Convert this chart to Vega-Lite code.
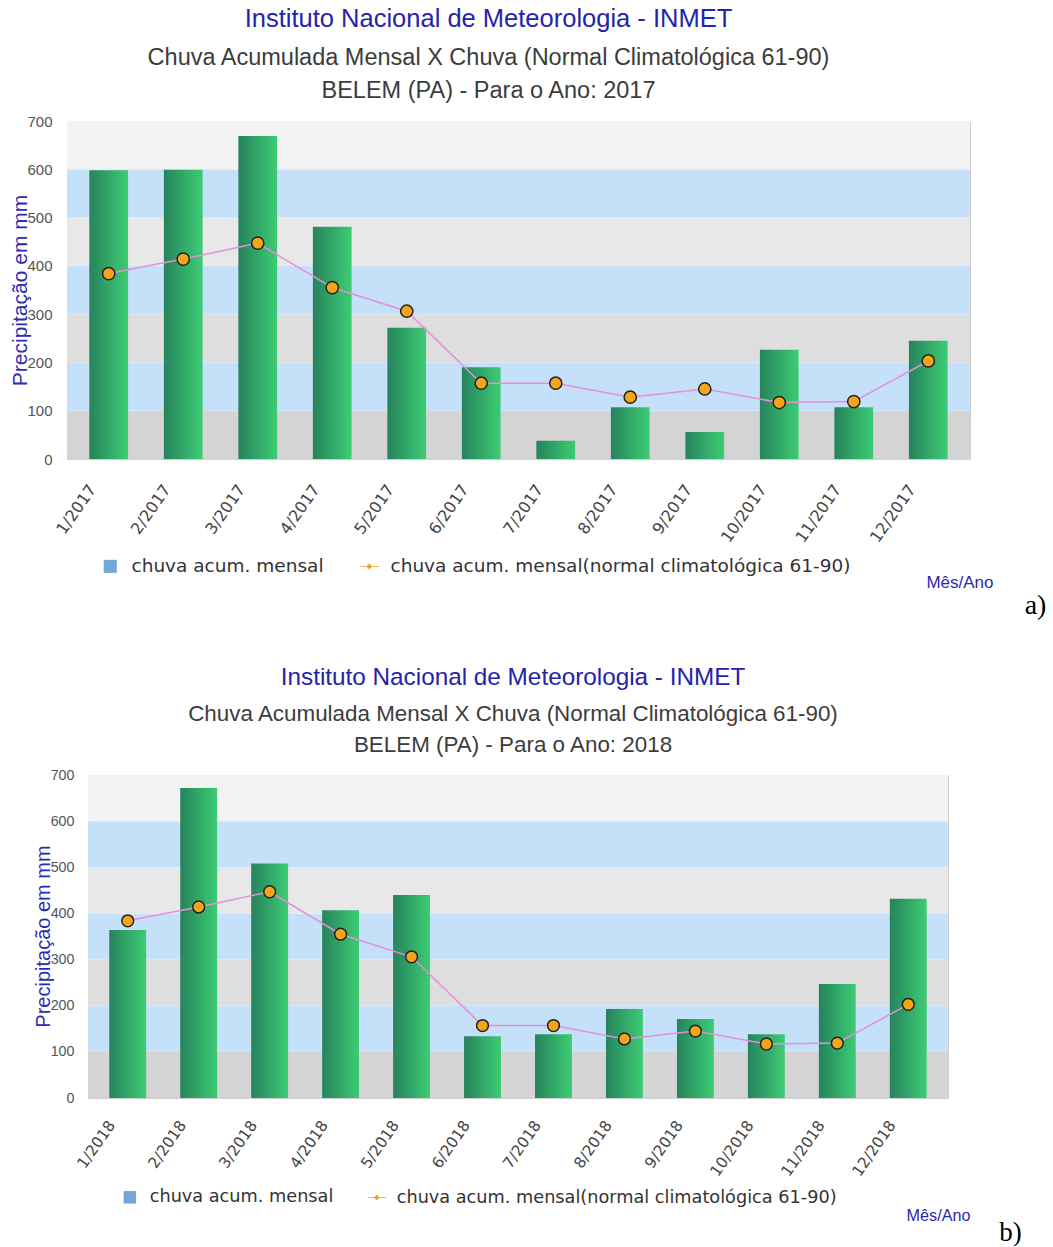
{
  "$schema": "https://vega.github.io/schema/vega-lite/v6.json",
  "padding": {"left": 8, "top": 6, "right": 0, "bottom": 0},
  "background": "white",
  "spacing": 45,
  "config": {"view": {"stroke": "#cfcfcf"}, "font": "Liberation Sans"},
  "resolve": {"scale": {"color": "independent", "fill": "independent", "shape": "independent", "x": "independent", "y": "independent"}, "legend": {"color": "independent", "fill": "independent", "shape": "independent"}},
  "datasets": {
    "bandas": [
      {"lo": 0, "hi": 100, "faixa": "f0"},
      {"lo": 100, "hi": 200, "faixa": "f1"},
      {"lo": 200, "hi": 300, "faixa": "f2"},
      {"lo": 300, "hi": 400, "faixa": "f3"},
      {"lo": 400, "hi": 500, "faixa": "f4"},
      {"lo": 500, "hi": 600, "faixa": "f5"},
      {"lo": 600, "hi": 700, "faixa": "f6"}
    ],
    "ano2017": [
      {"mes": "1/2017", "chuva": 598, "normal": 384},
      {"mes": "2/2017", "chuva": 599, "normal": 414},
      {"mes": "3/2017", "chuva": 669, "normal": 447},
      {"mes": "4/2017", "chuva": 481, "normal": 355},
      {"mes": "5/2017", "chuva": 272, "normal": 306},
      {"mes": "6/2017", "chuva": 190, "normal": 157},
      {"mes": "7/2017", "chuva": 38, "normal": 157},
      {"mes": "8/2017", "chuva": 107, "normal": 128},
      {"mes": "9/2017", "chuva": 56, "normal": 145},
      {"mes": "10/2017", "chuva": 226, "normal": 117},
      {"mes": "11/2017", "chuva": 107, "normal": 119},
      {"mes": "12/2017", "chuva": 245, "normal": 203}
    ],
    "ano2018": [
      {"mes": "1/2018", "chuva": 364, "normal": 384},
      {"mes": "2/2018", "chuva": 672, "normal": 414},
      {"mes": "3/2018", "chuva": 508, "normal": 447},
      {"mes": "4/2018", "chuva": 407, "normal": 355},
      {"mes": "5/2018", "chuva": 440, "normal": 306},
      {"mes": "6/2018", "chuva": 134, "normal": 157},
      {"mes": "7/2018", "chuva": 138, "normal": 157},
      {"mes": "8/2018", "chuva": 193, "normal": 128},
      {"mes": "9/2018", "chuva": 171, "normal": 145},
      {"mes": "10/2018", "chuva": 138, "normal": 117},
      {"mes": "11/2018", "chuva": 247, "normal": 119},
      {"mes": "12/2018", "chuva": 432, "normal": 203}
    ]
  },
  "vconcat": [
    {
      "width": 903,
      "height": 338,
      "title": {
        "text": "Instituto Nacional de Meteorologia - INMET",
        "subtitle": ["Chuva Acumulada Mensal X Chuva (Normal Climatológica 61-90)", "BELEM (PA) - Para o Ano: 2017"],
        "font": "Liberation Sans", "fontSize": 25.5, "fontWeight": "normal", "color": "#2424aa",
        "subtitleFont": "Liberation Sans", "subtitleFontSize": 23.5, "subtitleColor": "#3c3c3c",
        "subtitleLineHeight": 33, "subtitlePadding": 13, "offset": 12,
        "anchor": "middle", "frame": "group", "dx": -30
      },
      "layer": [
        {
          "data": {"name": "bandas"},
          "mark": {"type": "rect"},
          "encoding": {
            "y": {"field": "lo", "type": "quantitative", "scale": {"domain": [0, 700], "nice": false}, "axis": null},
            "y2": {"field": "hi"},
            "fill": {"field": "faixa", "type": "nominal", "legend": null,
              "scale": {"domain": ["f0", "f1", "f2", "f3", "f4", "f5", "f6"],
                        "range": ["#d4d4d4", "#c5e1fa", "#dedede", "#c5e1fa", "#e8e8e8", "#c5e1fa", "#f3f3f3"]}}
          }
        },
        {
          "data": {"name": "ano2017"},
          "mark": {"type": "bar", "color": {"gradient": "linear", "x1": 0, "x2": 1, "y1": 0, "y2": 0,
            "stops": [{"offset": 0, "color": "#26835c"}, {"offset": 1, "color": "#3dcc74"}]}},
          "encoding": {
            "x": {"field": "mes", "type": "nominal", "sort": null, "title": "Mês/Ano",
              "scale": {"paddingInner": 0.48, "paddingOuter": 0.3},
              "axis": {"labelAngle": -55, "labelAlign": "right", "labelBaseline": "middle",
                "labelFont": "DejaVu Sans", "labelFontSize": 16, "labelColor": "#444",
                "labelPadding": 27, "labelOffset": -16, "ticks": false, "domain": false,
                "titleFont": "Liberation Sans", "titleFontSize": 17, "titleColor": "#2a2aa6", "titleFontWeight": "normal",
                "titleX": 926, "titleY": 123, "titleAlign": "right", "titleBaseline": "middle", "titleAnchor": null}},
            "y": {"field": "chuva", "type": "quantitative", "scale": {"domain": [0, 700], "nice": false},
              "axis": {"title": "Precipitação em mm", "titleFont": "Liberation Sans", "titleFontSize": 21,
                "titleColor": "#2c2cb4", "titleFontWeight": "normal", "titleX": -41, "titleY": 169,
                "titleBaseline": "alphabetic", "titleAngle": -90, "titleAlign": "center",
                "labelFont": "Liberation Sans", "labelFontSize": 15, "labelColor": "#555", "labelPadding": 15,
                "ticks": false, "domain": false, "grid": false, "labelFlush": false,
                "values": [0, 100, 200, 300, 400, 500, 600, 700]}}
          }
        },
        {
          "data": {"name": "ano2017"},
          "mark": {"type": "line", "color": "#e58fd6", "strokeWidth": 1.5},
          "encoding": {
            "x": {"field": "mes", "type": "nominal", "sort": null, "title": "Mês/Ano"},
            "y": {"field": "normal", "type": "quantitative", "scale": {"domain": [0, 700], "nice": false},
              "axis": {"orient": "right", "title": "a)", "titleFont": "Liberation Serif", "titleFontSize": 28,
                "titleColor": "#000000", "titleFontWeight": "normal", "titleAngle": 0, "titleX": 65, "titleY": 484,
                "titleAlign": "center", "titleBaseline": "middle", "labels": false, "ticks": false,
                "domain": false, "grid": false}}
          }
        },
        {
          "data": {"name": "ano2017"},
          "mark": {"type": "point", "filled": true, "shape": "circle", "size": 150, "opacity": 1,
            "fill": "#f5a51a", "stroke": "#222222", "strokeWidth": 1.5},
          "encoding": {
            "x": {"field": "mes", "type": "nominal", "sort": null, "title": "Mês/Ano"},
            "y": {"field": "normal", "type": "quantitative", "scale": {"domain": [0, 700], "nice": false}, "axis": null}
          }
        },
        {
          "data": {"name": "ano2017"},
          "mark": {"type": "point", "filled": true, "size": 0, "opacity": 1, "strokeWidth": 0},
          "encoding": {
            "x": {"field": "mes", "type": "nominal", "sort": null, "title": "Mês/Ano"},
            "y": {"field": "normal", "type": "quantitative", "scale": {"domain": [0, 700], "nice": false}, "axis": null},
            "color": {"datum": "chuva acum. mensal(normal climatológica 61-90)", "type": "nominal",
              "scale": {"domain": ["chuva acum. mensal", "chuva acum. mensal(normal climatológica 61-90)"],
                        "range": ["#72a7d8", "#f0a020"]},
              "legend": {"title": null, "orient": "none", "legendX": 34, "legendY": 436, "direction": "horizontal",
                "symbolSize": 170, "labelFont": "DejaVu Sans", "labelFontSize": 18.5,
                "labelColor": "#333333", "labelOffset": 12, "columnPadding": 32, "padding": 0, "labelLimit": 0,
                "symbolOpacity": 1}},
            "shape": {"datum": "chuva acum. mensal(normal climatológica 61-90)", "type": "nominal",
              "scale": {"domain": ["chuva acum. mensal", "chuva acum. mensal(normal climatológica 61-90)"],
                        "range": ["square", "M-1.5,-0.06L1.5,-0.06L1.5,0.06L-1.5,0.06ZM0,-0.45L0.45,0L0,0.45L-0.45,0Z"]},
              "legend": {"title": null, "orient": "none", "legendX": 34, "legendY": 436, "direction": "horizontal",
                "symbolSize": 170, "labelFont": "DejaVu Sans", "labelFontSize": 18.5,
                "labelColor": "#333333", "labelOffset": 12, "columnPadding": 32, "padding": 0, "labelLimit": 0,
                "symbolOpacity": 1}}
          }
        }
      ],
      "resolve": {"axis": {"y": "independent"}}
    },
    {
      "spacing": -36,
      "resolve": {"scale": {"color": "independent", "fill": "independent", "shape": "independent", "x": "independent", "y": "independent"}, "legend": {"color": "independent", "fill": "independent", "shape": "independent"}},
      "hconcat": [
        {"width": 1, "height": 1, "data": {"values": []}, "mark": {"type": "point", "opacity": 0}, "encoding": {}, "view": {"stroke": null}},
        {
          "width": 860,
          "height": 323,
          "title": {
            "text": "Instituto Nacional de Meteorologia - INMET",
            "subtitle": ["Chuva Acumulada Mensal X Chuva (Normal Climatológica 61-90)", "BELEM (PA) - Para o Ano: 2018"],
            "font": "Liberation Sans", "fontSize": 24.3, "fontWeight": "normal", "color": "#2424aa",
            "subtitleFont": "Liberation Sans", "subtitleFontSize": 22.4, "subtitleColor": "#3c3c3c",
            "subtitleLineHeight": 31.5, "subtitlePadding": 12.5, "offset": 11.5,
            "anchor": "middle", "frame": "group", "dx": -5
          },
          "layer": [
            {
              "data": {"name": "bandas"},
              "mark": {"type": "rect"},
              "encoding": {
                "y": {"field": "lo", "type": "quantitative", "scale": {"domain": [0, 700], "nice": false}, "axis": null},
                "y2": {"field": "hi"},
                "fill": {"field": "faixa", "type": "nominal", "legend": null,
                  "scale": {"domain": ["f0", "f1", "f2", "f3", "f4", "f5", "f6"],
                            "range": ["#d4d4d4", "#c5e1fa", "#dedede", "#c5e1fa", "#e8e8e8", "#c5e1fa", "#f3f3f3"]}}
              }
            },
            {
              "data": {"name": "ano2018"},
              "mark": {"type": "bar", "color": {"gradient": "linear", "x1": 0, "x2": 1, "y1": 0, "y2": 0,
                "stops": [{"offset": 0, "color": "#26835c"}, {"offset": 1, "color": "#3dcc74"}]}},
              "encoding": {
                "x": {"field": "mes", "type": "nominal", "sort": null, "title": "Mês/Ano",
                  "scale": {"paddingInner": 0.48, "paddingOuter": 0.3},
                  "axis": {"labelAngle": -55, "labelAlign": "right", "labelBaseline": "middle",
                    "labelFont": "DejaVu Sans", "labelFontSize": 15.3, "labelColor": "#444",
                    "labelPadding": 24, "labelOffset": -16, "ticks": false, "domain": false,
                    "titleFont": "Liberation Sans", "titleFontSize": 16.2, "titleColor": "#2a2aa6", "titleFontWeight": "normal",
                    "titleX": 882, "titleY": 117, "titleAlign": "right", "titleBaseline": "middle", "titleAnchor": null}},
                "y": {"field": "chuva", "type": "quantitative", "scale": {"domain": [0, 700], "nice": false},
                  "axis": {"title": "Precipitação em mm", "titleFont": "Liberation Sans", "titleFontSize": 20,
                    "titleColor": "#2c2cb4", "titleFontWeight": "normal", "titleX": -39, "titleY": 161,
                    "titleBaseline": "alphabetic", "titleAngle": -90, "titleAlign": "center",
                    "labelFont": "Liberation Sans", "labelFontSize": 14.3, "labelColor": "#555", "labelPadding": 14,
                    "ticks": false, "domain": false, "grid": false, "labelFlush": false,
                    "values": [0, 100, 200, 300, 400, 500, 600, 700]}}
              }
            },
            {
              "data": {"name": "ano2018"},
              "mark": {"type": "line", "color": "#e58fd6", "strokeWidth": 1.5},
              "encoding": {
                "x": {"field": "mes", "type": "nominal", "sort": null, "title": "Mês/Ano"},
                "y": {"field": "normal", "type": "quantitative", "scale": {"domain": [0, 700], "nice": false},
                  "axis": {"orient": "right", "title": "b)", "titleFont": "Liberation Serif", "titleFontSize": 27,
                    "titleColor": "#000000", "titleFontWeight": "normal", "titleAngle": 0, "titleX": 62, "titleY": 457,
                    "titleAlign": "center", "titleBaseline": "middle", "labels": false, "ticks": false,
                    "domain": false, "grid": false}}
              }
            },
            {
              "data": {"name": "ano2018"},
              "mark": {"type": "point", "filled": true, "shape": "circle", "size": 140, "opacity": 1,
                "fill": "#f5a51a", "stroke": "#222222", "strokeWidth": 1.5},
              "encoding": {
                "x": {"field": "mes", "type": "nominal", "sort": null, "title": "Mês/Ano"},
                "y": {"field": "normal", "type": "quantitative", "scale": {"domain": [0, 700], "nice": false}, "axis": null}
              }
            },
            {
              "data": {"name": "ano2018"},
              "mark": {"type": "point", "filled": true, "size": 0, "opacity": 1, "strokeWidth": 0},
              "encoding": {
                "x": {"field": "mes", "type": "nominal", "sort": null, "title": "Mês/Ano"},
                "y": {"field": "normal", "type": "quantitative", "scale": {"domain": [0, 700], "nice": false}, "axis": null},
                "color": {"datum": "chuva acum. mensal(normal climatológica 61-90)", "type": "nominal",
                  "scale": {"domain": ["chuva acum. mensal", "chuva acum. mensal(normal climatológica 61-90)"],
                            "range": ["#72a7d8", "#f0a020"]},
                  "legend": {"title": null, "orient": "none", "legendX": 33, "legendY": 413, "direction": "horizontal",
                    "symbolSize": 155, "labelFont": "DejaVu Sans", "labelFontSize": 17.7,
                    "labelColor": "#333333", "labelOffset": 11, "columnPadding": 30, "padding": 0, "labelLimit": 0,
                    "symbolOpacity": 1}},
                "shape": {"datum": "chuva acum. mensal(normal climatológica 61-90)", "type": "nominal",
                  "scale": {"domain": ["chuva acum. mensal", "chuva acum. mensal(normal climatológica 61-90)"],
                            "range": ["square", "M-1.5,-0.06L1.5,-0.06L1.5,0.06L-1.5,0.06ZM0,-0.45L0.45,0L0,0.45L-0.45,0Z"]},
                  "legend": {"title": null, "orient": "none", "legendX": 33, "legendY": 413, "direction": "horizontal",
                    "symbolSize": 155, "labelFont": "DejaVu Sans", "labelFontSize": 17.7,
                    "labelColor": "#333333", "labelOffset": 11, "columnPadding": 30, "padding": 0, "labelLimit": 0,
                    "symbolOpacity": 1}}
              }
            }
          ],
          "resolve": {"axis": {"y": "independent"}}
        }
      ]
    }
  ]
}
